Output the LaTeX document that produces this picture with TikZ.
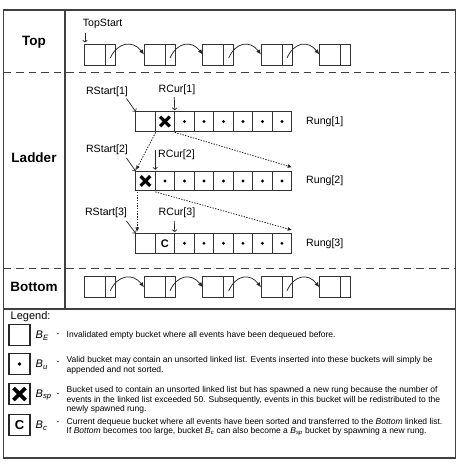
\documentclass[tikz,border=0pt]{standalone}
\usepackage{fontspec}
\setmainfont{Liberation Sans}
\usetikzlibrary{arrows.meta,calc}
\begin{document}
\begin{tikzpicture}[x=1pt,y=-1pt,
  frame/.style={draw=black!75, line width=1.1pt},
  sep/.style={draw=black!75, line width=1pt, dash pattern=on 7.5pt off 5pt},
  lbox/.style={draw=black!80, line width=0.75pt, minimum width=31pt, minimum height=21pt, inner sep=0pt, outer sep=0pt},
  cellline/.style={draw=black!80, line width=0.75pt},
  cell/.style={draw=black!80, line width=0.75pt, minimum width=19.5pt, minimum height=19.7pt, inner sep=0pt, outer sep=0pt},
  listarrow/.style={draw=black!85, line width=0.75pt, -{Latex[length=5pt,width=4.2pt]}},
  labarrow/.style={draw=black!85, line width=0.7pt, -{To[length=2.6pt,width=5pt]}},
  dotarrow/.style={draw=black!85, line width=0.8pt, dash pattern=on 1.4pt off 1.3pt, -{Triangle[length=4pt,width=3.4pt]}},
  xmk/.style={line width=3.2pt, draw=black},
  sect/.style={font=\bfseries\fontsize{13.5}{15}\selectfont},
  lab/.style={font=\fontsize{10.6}{12}\selectfont, inner sep=0pt},
  lgbox/.style={draw=black!85, line width=1.1pt, minimum size=21pt, inner sep=0pt},
  bsym/.style={font=\itshape\fontsize{11}{12}\selectfont, inner sep=0pt, anchor=west},
  ltext/.style={font=\fontsize{8.5}{9.7}\selectfont, inner sep=0pt, anchor=west, align=left}
]
\useasboundingbox (0,0) rectangle (466,474);

% frame
\draw[frame] (3.5,10) rectangle (455.5,458);
\draw[frame] (65,10) -- (65,309);
\draw[frame] (3.5,309) -- (455.5,309);
\draw[sep] (3.5,72) -- (455.5,72);
\draw[sep] (3.5,268) -- (455.5,268);

% section labels
\node[sect] (stop) at (34,42) {Top};
\node[sect] (sladder) at (34,158) {Ladder};
\node[sect] (sbottom) at (34,286.5) {Bottom};

% Top and Bottom lists
\foreach \i/\x in {1/84.3,2/144,3/202.7,4/261,5/319.3} {
  \node[lbox] (t\i) at (\x+15.5,54.5) {};
  \draw[cellline] ($(t\i.north west)+(21,0)$) -- ($(t\i.south west)+(21,0)$);
  \node[lbox] (b\i) at (\x+15.5,287.3) {};
  \draw[cellline] ($(b\i.north west)+(21,0)$) -- ($(b\i.south west)+(21,0)$);
}
\foreach \i/\j in {1/2,2/3,3/4,4/5} {
  \draw[listarrow] ($(t\i.south east)+(-5,-7)$) .. controls +(7,-16) and +(-11,-14.5) .. (t\j.west);
  \draw[listarrow] ($(b\i.south east)+(-5,-7)$) .. controls +(7,-16) and +(-11,-14.5) .. (b\j.west);
}
\node[lab, anchor=west] (ts) at (82.7,24) {TopStart};
\coordinate (tsa) at (85,32.5);
\coordinate (tsb) at (85,42.5);
\draw[labarrow] (tsa) -- (tsb);

% Ladder rungs
\foreach \r/\y in {1/121.5,2/181,3/243.3} {
  \foreach \c in {1,...,8} {
    \node[cell] (r\r-\c) at ({135.7+(\c-0.5)*19.5},\y) {};
  }
  \node[lab, anchor=west] (rung\r) at (306,\y) {Rung[\r]};
}
\foreach \r/\c in {1/3,1/4,1/5,1/6,1/7,1/8,2/2,2/3,2/4,2/5,2/6,2/7,2/8,3/3,3/4,3/5,3/6,3/7,3/8} {
  \fill (r\r-\c) circle (1.6pt);
}
\foreach \n in {r1-2,r2-1} {
  \draw[xmk] ($(\n)+(-4.8,-4.8)$) -- ($(\n)+(4.8,4.8)$);
  \draw[xmk] ($(\n)+(-4.8,4.8)$) -- ($(\n)+(4.8,-4.8)$);
}
\node[font=\bfseries\fontsize{11}{12}\selectfont, inner sep=0pt] (cmk) at (r3-2) {C};

% pointer labels
\node[lab] (rs1) at (107,91.5) {RStart[1]};
\node[lab] (rc1) at (177,90) {RCur[1]};
\node[lab] (rs2) at (107,150) {RStart[2]};
\node[lab, anchor=west] (rc2) at (158,155) {RCur[2]};
\node[lab] (rs3) at (106,213) {RStart[3]};
\node[lab] (rc3) at (177,213) {RCur[3]};

\coordinate (rs1a) at (126.5,98.5);
\coordinate (rs2a) at (126.5,158);
\coordinate (rs3a) at (126.5,221);
\draw[labarrow] (rs1a) -- (r1-1.north west);
\draw[labarrow] (rs2a) -- (r2-1.north west);
\draw[labarrow] (rs3a) -- (r3-1.north west);
\coordinate (rc1a) at (174.3,97);
\coordinate (rc2a) at (155.2,150);
\coordinate (rc3a) at (174.3,221);
\draw[labarrow] (rc1a) -- ($(r1-2.north east)+(0,-1.5)$);
\draw[labarrow] (rc2a) -- ($(r2-1.north east)+(0,-1.5)$);
\draw[labarrow] (rc3a) -- ($(r3-2.north east)+(0,-1.5)$);

% dotted spawn arrows
\draw[dotarrow] ($(r1-2.south west)+(0.5,1)$) -- ($(r2-1.north west)+(0.5,-1.5)$);
\draw[dotarrow] ($(r1-2.south east)+(0,1)$) -- ($(r2-8.north east)+(0,-4)$);
\draw[dotarrow] ($(r2-1.south west)+(1.5,1)$) -- ($(r3-1.north west)+(1.5,-2)$);
\draw[dotarrow] ($(r2-1.south east)+(0,1)$) -- ($(r3-8.north east)+(0,-3.5)$);

% Legend
\node[anchor=west, inner sep=0pt, font=\fontsize{11}{13}\selectfont] (leg) at (10.5,317) {Legend:};

\node[lgbox] (lb1) at (19.5,335) {};
\node[bsym] (bs1) at (35.5,336) {B\textsubscript{E}};
\node[anchor=west, inner sep=0pt, font=\fontsize{8.5}{9}\selectfont] (d1) at (56.5,335) {-};
\node[ltext] (lt1) at (66.5,335) {Invalidated empty bucket where all events have been dequeued before.};

\node[lgbox] (lb2) at (19.5,364) {};
\fill (lb2) circle (1.8pt);
\node[bsym] (bs2) at (35.5,365) {B\textsubscript{u}};
\node[anchor=west, inner sep=0pt, font=\fontsize{8.5}{9}\selectfont] (d2) at (56.5,363) {-};
\node[ltext] (lt2) at (66.5,365.3) {Valid bucket may contain an unsorted linked list. Events inserted into these buckets will simply be\\appended and not sorted.};

\node[lgbox] (lb3) at (19.5,394) {};
\draw[xmk, line width=3.8pt] ($(lb3)+(-6,-6)$) -- ($(lb3)+(6,6)$);
\draw[xmk, line width=3.8pt] ($(lb3)+(-6,6)$) -- ($(lb3)+(6,-6)$);
\node[bsym] (bs3) at (35.5,395) {B\textsubscript{sp}};
\node[anchor=west, inner sep=0pt, font=\fontsize{8.5}{9}\selectfont] (d3) at (56.5,395) {-};
\node[ltext] (lt3) at (66.5,399.8) {Bucket used to contain an unsorted linked list but has spawned a new rung because the number of\\events in the linked list exceeded 50. Subsequently, events in this bucket will be redistributed to the\\newly spawned rung.};

\node[lgbox] (lb4) at (19.5,425) {};
\node[font=\bfseries\fontsize{13}{14}\selectfont, inner sep=0pt] (lc) at (lb4) {C};
\node[bsym] (bs4) at (35.5,426) {B\textsubscript{c}};
\node[anchor=west, inner sep=0pt, font=\fontsize{8.5}{9}\selectfont] (d4) at (56.5,423) {-};
\node[ltext] (lt4) at (66.5,427) {Current dequeue bucket where all events have been sorted and transferred to the \textit{Bottom} linked list.\\If \textit{Bottom} becomes too large, bucket \textit{B}\textsubscript{\textit{c}} can also become a \textit{B}\textsubscript{\textit{sp}} bucket by spawning a new rung.};
\end{tikzpicture}
\end{document}
